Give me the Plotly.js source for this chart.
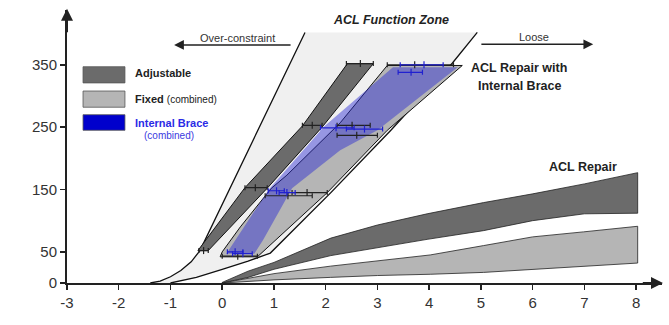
<!DOCTYPE html>
<html>
<head>
<meta charset="utf-8">
<script src="https://cdn.plot.ly/plotly-3.0.1.min.js"></script>
<style>html,body{margin:0;padding:0;background:#fff;}#chart{width:669px;height:325px;}</style>
</head>
<body>
<div id="chart"></div>
<script>
// ---------- data (x = peak elongation mm, y = force N) ----------
// ACL function zone boundaries
const zoneLeftX  = [-1.39, -1.2, -1.0, -0.8, -0.6, -0.43, 1.6];
const zoneLeftY  = [0, 3, 10, 20, 34, 52, 402];
const zoneRightX = [4.93, 4.45, 3.26, 2.1, 0.93, 0.5, 0.0, -0.5, -1.0];
const zoneRightY = [402, 353, 245, 145, 48, 35, 22, 9, 0];

// Adjustable (ACL repair with internal brace)
const adjLeftX  = [-0.47, 0.44, 1.55, 2.42];
const adjLeftY  = [52, 153, 252, 352];
const adjRightX = [-0.27, 0.88, 1.95, 2.92];
const adjRightY = [52, 153, 252, 352];

// Fixed (combined)
const fixLeftX  = [-0.04, 0.0, 0.35, 0.95, 1.25, 2.28, 3.19];
const fixLeftY  = [42, 50, 90, 152, 173, 257, 349];
const fixRightX = [0.68, 2.03, 3.19, 4.64];
const fixRightY = [42, 145, 245, 349];

// Internal brace (combined)
const ibLeftX  = [0.08, 0.9, 1.98, 3.3];
const ibLeftY  = [47, 150, 252, 346];
const ibRightX = [0.62, 0.79, 1.35, 2.28, 3.0, 4.55];
const ibRightY = [47, 69, 152, 213, 245, 346];

// ACL repair (without brace)
const repAdjX   = [0.0, 0.5, 1.0, 2.1, 3.0, 3.96, 5.05, 6.0, 7.0, 8.03];
const repAdjTop = [1, 19, 33, 72, 93, 111, 129, 143, 159, 177];
const repAdjBot = [0, 9, 22, 44, 56, 70, 84, 100, 111, 112];
const repFixX   = [0.0, 1.0, 2.09, 3.0, 4.02, 5.05, 6.0, 6.98, 8.03];
const repFixTop = [0, 15, 27, 36, 45, 60, 74, 82, 91];
const repFixBot = [0, 5, 9, 12, 14, 17, 22, 27, 32];

// error bars: centre, force, low, high
const ebBlackX  = [2.67, 1.74, 0.64, -0.36, 3.72, 2.51, 2.6, 1.64, 1.27, 0.3];
const ebBlackY  = [352, 253, 153, 52, 350, 253, 237, 145, 140, 43];
const ebBlackLo = [2.40, 1.55, 0.44, -0.45, 3.19, 2.22, 2.22, 1.35, 0.83, 0.0];
const ebBlackHi = [2.92, 1.93, 0.87, -0.27, 4.47, 2.86, 3.0, 2.03, 1.74, 0.68];

const ebBlueX  = [3.9, 3.65, 2.2, 2.75, 1.05, 1.25, 0.25, 0.4];
const ebBlueY  = [350, 338, 249, 247, 148, 145, 50, 47];
const ebBlueLo = [3.44, 3.40, 1.9, 2.4, 0.89, 1.1, 0.1, 0.2];
const ebBlueHi = [4.27, 3.87, 2.55, 3.1, 1.2, 1.41, 0.4, 0.58];

const xTicks = [-3, -2, -1, 0, 1, 2, 3, 4, 5, 6, 7, 8];
const yTicks = [0, 50, 150, 250, 350];

// ---------- helpers ----------
const FONT = 'Liberation Sans, Arial, Helvetica, sans-serif';
function poly(xa, ya, xb, yb, fill, lineColor, lw) {
  const x = xa.concat(xb.slice().reverse());
  const y = ya.concat(yb.slice().reverse());
  x.push(x[0]); y.push(y[0]);
  return {x, y, type: 'scatter', mode: 'lines', fill: 'toself', fillcolor: fill,
          line: {color: lineColor || 'rgba(0,0,0,0)', width: lw || 0},
          hoverinfo: 'skip', showlegend: false};
}
function line(x, y, color, w) {
  return {x, y, type: 'scatter', mode: 'lines', line: {color, width: w},
          hoverinfo: 'skip', showlegend: false};
}
function bars(cx, cy, lo, hi, color) {
  return {x: cx, y: cy, type: 'scatter', mode: 'markers',
          marker: {symbol: 'line-ns-open', size: 5, line: {color, width: 1.2}, color},
          error_x: {type: 'data', symmetric: false,
                    array: hi.map((h, i) => h - cx[i]),
                    arrayminus: lo.map((l, i) => cx[i] - l),
                    color, thickness: 1.2, width: 2.5},
          hoverinfo: 'skip', showlegend: false};
}

const traces = [
  poly(zoneLeftX, zoneLeftY, zoneRightX.slice().reverse(), zoneRightY.slice().reverse(), '#f0f0f0'),
  line(zoneLeftX, zoneLeftY, '#111', 1.3),
  line(zoneRightX, zoneRightY, '#111', 1.3),
  poly(repAdjX, repAdjTop, repAdjX, repAdjBot, '#6b6b6b', '#222', 0.8),
  poly(repFixX, repFixTop, repFixX, repFixBot, '#b5b5b5', '#222', 0.8),
  poly(adjLeftX, adjLeftY, adjRightX, adjRightY, '#6b6b6b', '#111', 1),
  poly(fixLeftX, fixLeftY, fixRightX, fixRightY, '#b5b5b5', '#111', 1),
  poly(ibLeftX, ibLeftY, ibRightX, ibRightY, 'rgba(40,40,210,0.45)'),
  bars(ebBlackX, ebBlackY, ebBlackLo, ebBlackHi, '#222'),
  bars(ebBlueX, ebBlueY, ebBlueLo, ebBlueHi, '#2020d0')
];

const txt = (x, y, text, size, opts) => Object.assign({
  x, y, xref: 'x', yref: 'y', text, showarrow: false,
  font: {family: FONT, size, color: '#222'}, xanchor: 'center', yanchor: 'middle'
}, opts || {});

const annotations = [
  txt(3.26, 422, '<b><i>ACL Function Zone</i></b>', 12.5),
  txt(0.29, 393, 'Over-constraint', 11, {font: {family: FONT, size: 11, color: '#333'}}),
  txt(6.03, 395, 'Loose', 11, {font: {family: FONT, size: 11, color: '#333'}}),
  {x: -0.93, y: 382, ax: 1.35, ay: 382, xref: 'x', yref: 'y', axref: 'x', ayref: 'y',
   text: '', showarrow: true, arrowhead: 2, arrowsize: 1.3, arrowwidth: 1.5, arrowcolor: '#222'},
  {x: 7.17, y: 383, ax: 4.98, ay: 383, xref: 'x', yref: 'y', axref: 'x', ayref: 'y',
   text: '', showarrow: true, arrowhead: 2, arrowsize: 1.3, arrowwidth: 1.5, arrowcolor: '#222'},
  txt(5.74, 345, '<b>ACL Repair with</b>', 12.5),
  txt(5.74, 316, '<b>Internal Brace</b>', 12.5),
  txt(6.97, 186, '<b>ACL Repair</b>', 12.5),
  // legend labels
  txt(-1.72, 337, '<b>Adjustable</b>', 11, {xanchor: 'left'}),
  txt(-1.72, 295, '<b>Fixed</b> <span style="font-size:10px">(combined)</span>', 11, {xanchor: 'left'}),
  txt(-1.72, 257, '<b>Internal Brace</b>', 11, {xanchor: 'left', font: {family: FONT, size: 11, color: '#2b2be6'}}),
  txt(-1.55, 236, '(combined)', 10, {xanchor: 'left', font: {family: FONT, size: 10, color: '#3a3ae0'}}),
  // axis titles
  txt(8.02, -53, 'Peak Elongation, mm', 15.5, {xanchor: 'right', font: {family: FONT, size: 15.5, color: '#333'}}),
  txt(-3.95, 210, 'Force, N', 17, {textangle: -90, font: {family: FONT, size: 17, color: '#333'}}),
  // axis arrowheads
  {x: 8.52, y: 0, ax: 8.1, ay: 0, xref: 'x', yref: 'y', axref: 'x', ayref: 'y',
   text: '', showarrow: true, arrowhead: 2, arrowsize: 1.2, arrowwidth: 2, arrowcolor: '#222'},
  {x: -3, y: 440, ax: -3, ay: 400, xref: 'x', yref: 'y', axref: 'x', ayref: 'y',
   text: '', showarrow: true, arrowhead: 2, arrowsize: 1.2, arrowwidth: 2, arrowcolor: '#222'}
];

const legendBox = (y0, y1, fill) => ({type: 'rect', xref: 'x', yref: 'y',
  x0: -2.69, x1: -1.88, y0, y1, fillcolor: fill, line: {color: '#555', width: 0.8}});

const layout = {
  width: 669, height: 325,
  margin: {l: 67, r: 7, t: 10, b: 42},
  paper_bgcolor: '#fff', plot_bgcolor: '#fff',
  showlegend: false,
  font: {family: FONT, color: '#333'},
  xaxis: {range: [-3, 8.5], tickvals: xTicks, ticktext: xTicks.map(String),
          ticks: 'outside', ticklen: 5, tickwidth: 1.5, tickcolor: '#222',
          showline: true, linewidth: 2, linecolor: '#222', zeroline: false, showgrid: false,
          tickfont: {family: FONT, size: 15, color: '#333'}, fixedrange: true},
  yaxis: {range: [0, 438], tickvals: yTicks, ticktext: yTicks.map(String),
          ticks: 'outside', ticklen: 5, tickwidth: 1.5, tickcolor: '#222',
          showline: true, linewidth: 2, linecolor: '#222', zeroline: false, showgrid: false,
          tickfont: {family: FONT, size: 15, color: '#333'}, fixedrange: true},
  shapes: [
    legendBox(321, 347, '#6b6b6b'),
    legendBox(282, 308, '#b5b5b5'),
    legendBox(245, 270, '#0000cc')
  ],
  annotations
};

Plotly.newPlot('chart', traces, layout, {displayModeBar: false, staticPlot: true});
</script>
</body>
</html>
